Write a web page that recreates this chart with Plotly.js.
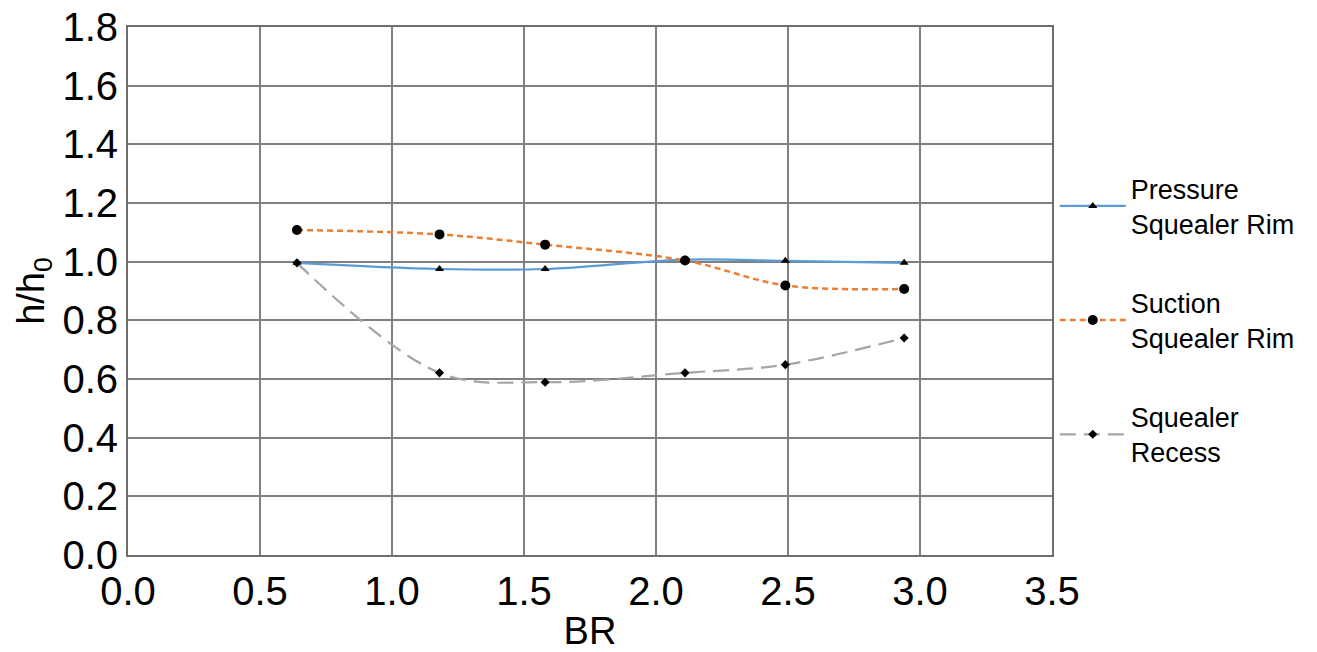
<!DOCTYPE html>
<html>
<head>
<meta charset="utf-8">
<script src="https://cdn.plot.ly/plotly-3.0.1.min.js"></script>
<style>html,body{margin:0;padding:0;background:#fff;}#chart{width:1317px;height:652px;}</style>
</head>
<body>
<div id="chart"></div>
<script>
const br = [0.64, 1.18, 1.58, 2.11, 2.49, 2.94];
const pressureRim = [0.996, 0.975, 0.975, 1.007, 1.003, 0.996];
const suctionRim = [1.108, 1.093, 1.058, 1.004, 0.919, 0.907];
const squealerRecess = [0.996, 0.621, 0.589, 0.621, 0.649, 0.740];
const seriesNames = ["Pressure<br>Squealer Rim", "Suction<br>Squealer Rim", "Squealer<br>Recess"];
const xTicks = [0, 0.5, 1, 1.5, 2, 2.5, 3, 3.5];
const yTicks = [0, 0.2, 0.4, 0.6, 0.8, 1.0, 1.2, 1.4, 1.6, 1.8];

const traces = [
  {x: br, y: pressureRim, name: seriesNames[0], legendgroup: "a", mode: "lines+markers",
   line: {color: "#5B9BD5", width: 2.2, shape: "spline", smoothing: 1},
   marker: {symbol: "triangle-up", size: 8, color: "#000"}},
  {x: br, y: suctionRim, name: seriesNames[1], legendgroup: "b", mode: "lines+markers",
   line: {color: "#ED7D31", width: 2.5, dash: "6px,4px", shape: "spline", smoothing: 1},
   marker: {symbol: "circle", size: 10, color: "#000"}},
  {x: br, y: squealerRecess, name: seriesNames[2], legendgroup: "c", mode: "lines+markers",
   line: {color: "#A5A5A5", width: 2.2, dash: "16px,8px", shape: "spline", smoothing: 1},
   marker: {symbol: "diamond", size: 7, color: "#000"}}
];

const layout = {
  width: 1317, height: 652,
  paper_bgcolor: "#fff", plot_bgcolor: "#fff",
  margin: {l: 128, r: 265, t: 27, b: 97, pad: 0},
  font: {family: "Liberation Sans, Arial, sans-serif", color: "#000"},
  xaxis: {
    range: [0, 3.5], tickvals: xTicks, ticktext: xTicks.map(v => v.toFixed(1)),
    showgrid: true, gridcolor: "#808080", gridwidth: 1.8,
    showline: true, linecolor: "#6e6e6e", linewidth: 2, mirror: true,
    zeroline: false, ticks: "", tickfont: {size: 40, color: "#000"},
    title: {text: "BR", font: {size: 38, color: "#000"}, standoff: 6}
  },
  yaxis: {
    range: [0, 1.8], tickvals: yTicks, ticktext: yTicks.map(v => v.toFixed(1)),
    showgrid: true, gridcolor: "#808080", gridwidth: 1.8,
    showline: true, linecolor: "#6e6e6e", linewidth: 2, mirror: true,
    zeroline: false, ticks: "", tickfont: {size: 40, color: "#000"},
    title: {text: "h/h<sub>0</sub>", font: {size: 38, color: "#000"}, standoff: 6}
  },
  legend: {
    x: 1.003, xanchor: "left", y: 0.74, yanchor: "top",
    font: {size: 27, color: "#000"}, tracegroupgap: 41,
    bgcolor: "rgba(0,0,0,0)", itemwidth: 66
  },
  showlegend: true
};

Plotly.newPlot("chart", traces, layout, {displayModeBar: false, staticPlot: true});
</script>
</body>
</html>
